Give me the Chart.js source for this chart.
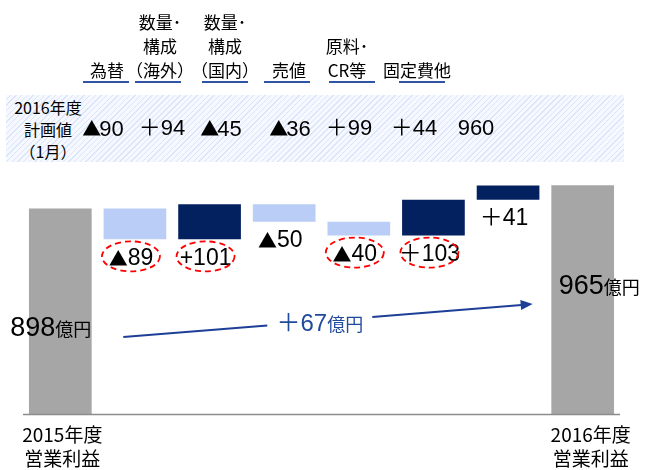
<!DOCTYPE html>
<html lang="ja">
<head>
<meta charset="utf-8">
<title>営業利益 増減要因</title>
<script src="https://cdn.jsdelivr.net/npm/chart.js@4.4.1/dist/chart.umd.min.js"></script>
<style>
	html, body { margin: 0; padding: 0; background: #fff; }
	#wrap { position: relative; width: 645px; height: 470px; overflow: hidden;
		font-family: "Noto Sans CJK JP", sans-serif; color: #000; }
	#chart { position: absolute; left: 0; top: 0; }
	.head { position: absolute; bottom: 388px; transform: translateX(-50%);
		font-size: 17px; line-height: 24px; text-align: center; white-space: nowrap; }
	.uline { position: absolute; top: 81px; width: 46px; height: 2px; background: #2f54a6; }
	#band { position: absolute; left: 6px; top: 95px; width: 618px; height: 67px;
		background: repeating-linear-gradient(135deg, #f5f8fe 0px, #f5f8fe 3px, #dbe4f8 3px, #dbe4f8 4px); }
	#planLabel { position: absolute; left: 48px; top: 96px; transform: translateX(-50%);
		font-size: 16px; line-height: 22px; text-align: center; white-space: nowrap; }
	.plan { position: absolute; top: 113px; transform: translateX(-50%);
		font-family: "Liberation Sans", "Noto Sans CJK JP", sans-serif; font-size: 22px;
		line-height: 30px; white-space: nowrap; }
	.tri { font-family: "Noto Sans CJK JP"; font-size: 19px; margin-right: -2px; }
</style>
</head>
<body>
<div id="wrap">
	<div id="band"></div>
	<div id="planLabel">2016年度<br>計画値<br>（1月）</div>
	<canvas id="chart" width="645" height="470"></canvas>
</div>

<script>
	// data
	var categories = ['2015年度営業利益', '為替', '数量・構成（海外）', '数量・構成（国内）', '売値', '原料・CR等', '固定費他', '2016年度営業利益']
	var startValue = 898
	var endValue = 965
	var deltas = [-89, 101, -50, -40, 103, 41]
	var deltaLabels = ['▲89', '+101', '▲50', '▲40', '＋103', '＋41']
	var circled = [true, true, false, true, true, false]
	var headLines = [['為替'], ['数量･', '構成', '（海外）'], ['数量･', '構成', '（国内）'], ['売値'], ['原料･', 'CR等'], ['固定費他']]
	var planLabels = ['▲90', '＋94', '▲45', '▲36', '＋99', '＋44', '960']
	var totalLabel = '＋67'
	var yMin = 306, yMax = 980

	// layout of the header row (pixels)
	var headX = [107, 160, 225, 289, 347, 417]
	var ulineX = [83, 135, 202, 264, 329, 399]
	var planX = [103, 162, 221, 290, 349, 414, 476]

	var wrap = document.getElementById('wrap')
	headLines.forEach(function (lines, i) {
		var d = document.createElement('div')
		d.className = 'head'
		d.style.left = headX[i] + 'px'
		d.innerHTML = lines.join('<br>')
		wrap.appendChild(d)
		var u = document.createElement('div')
		u.className = 'uline'
		u.style.left = ulineX[i] + 'px'
		wrap.appendChild(u)
	})
	planLabels.forEach(function (t, i) {
		var d = document.createElement('div')
		d.className = 'plan'
		d.style.left = planX[i] + 'px'
		if (t.charAt(0) == '▲') {
			d.innerHTML = '<span class="tri">▲</span>' + t.slice(1)
		} else {
			d.textContent = t
		}
		wrap.appendChild(d)
	})

	// floating bars for the waterfall
	var ranges = [[yMin, startValue]]
	var colors = ['#a6a6a6']
	var running = startValue
	for (var i = 0; i < deltas.length; i++) {
		ranges.push([running, running + deltas[i]])
		colors.push(deltas[i] < 0 ? '#b9cdf7' : '#03205f')
		running += deltas[i]
	}
	ranges.push([yMin, endValue])
	colors.push('#a6a6a6')

	function mixedText(ctx, parts, x, y, align) {
		// parts: [text, font] pairs drawn on one baseline
		var total = 0
		parts.forEach(function (p) { ctx.font = p[1]; total += ctx.measureText(p[0]).width })
		var cx = align == 'center' ? x - total / 2 : x
		ctx.textAlign = 'left'
		parts.forEach(function (p) { ctx.font = p[1]; ctx.fillText(p[0], cx, y); cx += ctx.measureText(p[0]).width })
		return total
	}

	function deltaParts(t) {
		var num = '23px "Liberation Sans", "Noto Sans CJK JP"'
		if (t.charAt(0) == '▲') return [['▲', '19px "Noto Sans CJK JP"'], [t.slice(1), num]]
		return [[t, num]]
	}

	var decorations = {
		id: 'decorations',
		afterDatasetsDraw: function (chart) {
			var ctx = chart.ctx
			var area = chart.chartArea
			var bars = chart.getDatasetMeta(0).data
			ctx.save()

			// base line
			ctx.strokeStyle = '#8c8c8c'
			ctx.lineWidth = 1.5
			ctx.beginPath()
			ctx.moveTo(area.left, area.bottom + 0.5)
			ctx.lineTo(area.right, area.bottom + 0.5)
			ctx.stroke()

			// delta labels below each floating bar
			ctx.fillStyle = '#000'
			ctx.textBaseline = 'middle'
			for (var i = 0; i < deltas.length; i++) {
				var b = bars[i + 1]
				var bottom = Math.max(b.y, b.base)
				var ly = bottom + 19
				mixedText(ctx, deltaParts(deltaLabels[i]), b.x - 4, ly, 'center')
				if (circled[i]) {
					ctx.save()
					ctx.strokeStyle = '#ff0000'
					ctx.lineWidth = 1.8
					ctx.setLineDash([6, 4])
					ctx.beginPath()
					ctx.ellipse(b.x - 4, ly - 2, 29, 15, 0, 0, Math.PI * 2)
					ctx.stroke()
					ctx.restore()
				}
			}

			// totals inside the grey bars
			ctx.textBaseline = 'alphabetic'
			var first = bars[0], last = bars[bars.length - 1]
			mixedText(ctx, [[String(startValue), '27px "Liberation Sans"'], ['億円', '18px "Noto Sans CJK JP"']], first.x - 50, first.y + 128, 'left')
			mixedText(ctx, [[String(endValue), '27px "Liberation Sans"'], ['億円', '18px "Noto Sans CJK JP"']], last.x - 24, last.y + 109, 'left')

			// category names under the totals
			ctx.font = '19px "Noto Sans CJK JP"'
			ctx.textAlign = 'center'
			ctx.textBaseline = 'middle'
			ctx.fillText('2015年度', first.x + 2, area.bottom + 21)
			ctx.fillText('営業利益', first.x + 2, area.bottom + 45)
			ctx.fillText('2016年度', last.x + 8, area.bottom + 21)
			ctx.fillText('営業利益', last.x + 8, area.bottom + 45)

			// arrow from 2015 to 2016 with the change label
			var x0 = first.x + 63, y0 = area.bottom - 77
			var x1 = last.x - 50, y1 = area.bottom - 110
			var slope = (y1 - y0) / (x1 - x0)
			var gapL = x0 + 144, gapR = x0 + 249
			ctx.strokeStyle = '#1d3f96'
			ctx.fillStyle = '#1d3f96'
			ctx.lineWidth = 2
			ctx.beginPath()
			ctx.moveTo(x0, y0)
			ctx.lineTo(gapL, y0 + slope * (gapL - x0))
			ctx.moveTo(gapR, y0 + slope * (gapR - x0))
			ctx.lineTo(x1 - 8, y1 - slope * 8)
			ctx.stroke()
			var ang = Math.atan(slope)
			ctx.beginPath()
			ctx.moveTo(x1, y1)
			ctx.lineTo(x1 - 12 * Math.cos(ang) + 5 * Math.sin(ang), y1 - 12 * Math.sin(ang) - 5 * Math.cos(ang))
			ctx.lineTo(x1 - 12 * Math.cos(ang) - 5 * Math.sin(ang), y1 - 12 * Math.sin(ang) + 5 * Math.cos(ang))
			ctx.closePath()
			ctx.fill()
			ctx.fillStyle = '#1f4a9e'
			ctx.textBaseline = 'alphabetic'
			mixedText(ctx, [[totalLabel, '24px "Liberation Sans", "Noto Sans CJK JP"'], ['億円', '18px "Noto Sans CJK JP"']], (gapL + gapR) / 2, area.bottom - 83, 'center')

			ctx.restore()
		}
	}

	var chart = new Chart('chart', {
		type: 'bar',
		data: {
			labels: categories,
			datasets: [{
				data: ranges,
				backgroundColor: colors,
				borderWidth: 0,
				barPercentage: 0.84,
				categoryPercentage: 1
			}]
		},
		options: {
			responsive: false,
			animation: false,
			layout: { padding: { top: 180, bottom: 56, left: 23, right: 25 } },
			plugins: {
				legend: { display: false },
				tooltip: { enabled: false }
			},
			scales: {
				x: { display: false },
				y: { display: false, min: yMin, max: yMax }
			}
		},
		plugins: [decorations]
	})
</script>
</body>
</html>
